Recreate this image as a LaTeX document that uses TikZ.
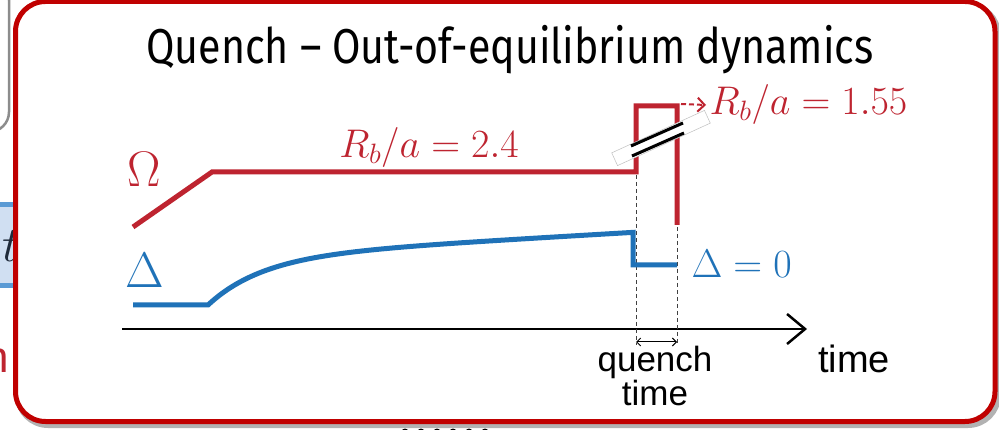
\RequirePackage{fix-cm}
\documentclass[tikz,border=0pt]{standalone}
\usepackage{fontspec}
\usepackage{amsmath}
\setsansfont{Liberation Sans}
\newfontfamily\titlefont[FakeStretch=0.84]{Fira Sans}
\usetikzlibrary{arrows.meta}
\definecolor{framered}{HTML}{C00000}
\definecolor{omred}{HTML}{BE2430}
\definecolor{dlblue}{HTML}{1F72B8}
\definecolor{boxblue}{HTML}{5B9BD5}
\definecolor{boxfill}{HTML}{D0DFF2}
\definecolor{slideink}{HTML}{1F2A3A}

\begin{document}
\begin{tikzpicture}[x=1pt, y=-1pt,
    frameline/.style={draw=framered, line width=5pt, rounded corners=30pt},
    curve/.style={line width=5pt},
    guide/.style={draw=black!75, line width=1pt, dash pattern=on 4pt off 3pt},
    axis/.style={draw=black, line width=2.5pt, -{Straight Barb[length=18pt, width=30pt, line width=2.5pt]}},
    bigsym/.style={font=\fontsize{50}{54}\selectfont},
    bigmath/.style={font=\fontsize{40}{44}\selectfont},
    caption/.style={font=\sffamily\fontsize{35}{30}\selectfont, align=center},
  ]
  \useasboundingbox (0,0) rectangle (999,430);

  % pieces of the slide behind the box
  \draw[draw=black!45, line width=2.5pt, rounded corners=20pt, fill=white] (-40,-20) rectangle (9,132);
  \fill[boxfill] (-5,203) rectangle (20,288);
  \draw[boxblue, line width=5pt] (-5,205) -- (20,205) (-5,286) -- (20,286);
  \node[font=\fontsize{50}{54}\selectfont, text=slideink, anchor=base] (tfrag) at (11,262) {$t$};
  \node[font=\sffamily\fontsize{44}{44}\selectfont, text=omred, anchor=base east] (nfrag) at (13,373) {n};
  \foreach \i in {0,...,5}
    \fill[black] (405+16*\i, 432) circle (3.5pt);

  % the box
  \draw[draw=black!30, line width=6pt, rounded corners=30pt] (18,5) rectangle (998,425);
  \draw[frameline, fill=white] (15.5,1.5) rectangle (995,421.5);

  \node[font=\titlefont\fontsize{49}{53}\selectfont, anchor=base] (title) at (510,64)
    {Quench – Out-of-equilibrium dynamics};

  % time axis
  \coordinate (t0) at (122,329);
  \coordinate (t1) at (807,329);
  \draw[axis] (t0) -- (t1);
  \node[font=\sffamily\fontsize{38}{38}\selectfont, anchor=base] (tlab) at (854,373) {time};

  % quench window
  \coordinate (qa) at (636,175);
  \coordinate (qb) at (677,227);
  \coordinate (qc) at (636,345);
  \coordinate (qd) at (677,345);
  \draw[guide] (qa) -- (qc);
  \draw[guide] (qb) -- (qd);
  \draw[line width=1pt, {Straight Barb[length=4pt, width=8pt]}-{Straight Barb[length=4pt, width=8pt]}]
    (636,342) -- (677,342);
  \node[caption, anchor=north] (qlab) at (655,343) {quench\\time};

  % Omega: ramp, plateau, jump
  \draw[curve, omred] (133,227) -- (212,172) -- (636,172) -- (636,106) -- (677,106) -- (677,225);
  \node[bigsym, text=omred, anchor=base] (om) at (144,187) {$\Omega$};
  \node[bigmath, text=omred, anchor=base] (rb1) at (429,158) {$R_b/a = 2.4$};
  \node[bigmath, text=omred, anchor=base west] (rb2) at (706,115) {$R_b/a = 1.55$};
  \draw[omred, line width=2pt, dash pattern=on 5pt off 3pt,
    -{Straight Barb[length=7pt, width=14pt]}] (681,104) -- (rb2.west);

  % axis break on the jump
  \node[draw=black!25, line width=0.5pt, fill=white, rotate=24.6,
    minimum width=102pt, minimum height=14pt, inner sep=0pt] (cut) at (661,138) {};
  \draw[line width=3pt] (631,146) -- (683,123);
  \draw[line width=3pt] (632,156) -- (684,133);

  % Delta: flat, slow rise, switched off
  \draw[curve, dlblue] (133,305) -- (208,305)
    -- plot[domain=208:633, samples=80, smooth] (\x, {305 - 48*(1-exp(-(\x-208)/55)) - 0.058*(\x-208)})
    -- (633,265) -- (677,265);
  \node[bigsym, text=dlblue, anchor=base] (dl) at (145,288) {$\Delta$};
  \node[bigmath, text=dlblue, anchor=base west] (dl0) at (688,278) {$\Delta = 0$};
\end{tikzpicture}
\end{document}
